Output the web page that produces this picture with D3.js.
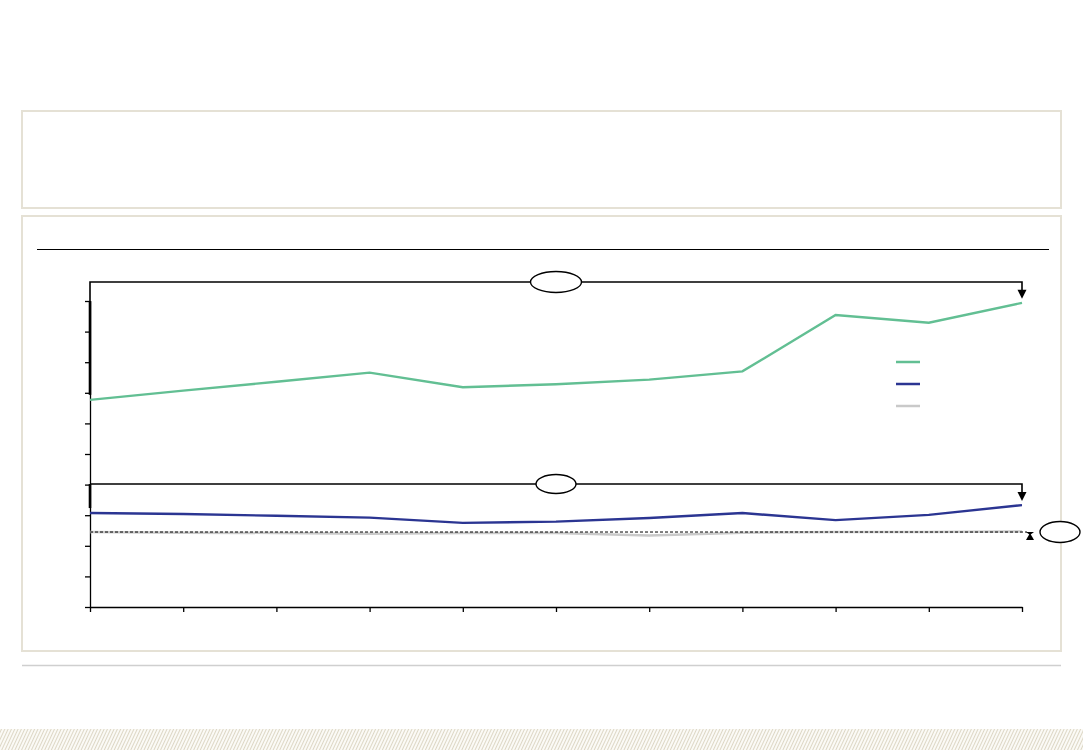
<!DOCTYPE html>
<html>
<head>
<meta charset="utf-8">
<script src="https://cdn.jsdelivr.net/npm/d3@7"></script>
<style>
  html, body { margin: 0; padding: 0; background: #fff; }
  svg { display: block; }
</style>
</head>
<body>
<svg id="chart" width="1083" height="750"></svg>
<script>
// ---- data ----
const categories = ["1", "2", "3", "4", "5", "6", "7", "8", "9", "10", "11"];
const seriesGreen = [67.7, 70.7, 73.6, 76.6, 71.8, 72.8, 74.3, 77.0, 95.4, 92.9, 99.4];
const seriesBlue  = [30.7, 30.4, 29.8, 29.2, 27.5, 27.9, 29.1, 30.7, 28.4, 30.1, 33.3];
const seriesGray  = [24.5, 24.3, 24.2, 23.9, 24.2, 24.2, 23.4, 24.3, 24.5, 24.5, 24.7];
const referenceLevel = 24.5;
const yTicks = [0, 10, 20, 30, 40, 50, 60, 70, 80, 90, 100];
const bracketLevels = [106.2, 40.2];
const seriesNames = ["green", "blue", "gray"];
const seriesColors = ["#62bf93", "#2b3592", "#c9c9c9"];

// ---- layout ----
const svg = d3.select("#chart");
const W = 1083, H = 750;
const x = d3.scalePoint().domain(categories).range([90, 1022]);
const y = d3.scaleLinear().domain([0, 100]).range([607, 301]);

// hatched band pattern
const defs = svg.append("defs");
const pat = defs.append("pattern").attr("id", "hatch").attr("patternUnits", "userSpaceOnUse")
  .attr("width", 3).attr("height", 3).attr("patternTransform", "rotate(25)");
pat.append("rect").attr("width", 3).attr("height", 3).attr("fill", "#fbfaf6");
pat.append("line").attr("x1", 0.5).attr("y1", 0).attr("x2", 0.5).attr("y2", 3)
  .attr("stroke", "#ddd7c5").attr("stroke-width", 1);
svg.append("rect").attr("x", 0).attr("y", 729).attr("width", W).attr("height", H - 729).attr("fill", "url(#hatch)");

// panels
svg.append("rect").attr("x", 22).attr("y", 111).attr("width", 1039).attr("height", 97)
  .attr("fill", "#fff").attr("stroke", "#e5e1d5").attr("stroke-width", 2);
svg.append("rect").attr("x", 22).attr("y", 216).attr("width", 1039).attr("height", 435)
  .attr("fill", "#fff").attr("stroke", "#e5e1d5").attr("stroke-width", 2);
svg.append("line").attr("x1", 22).attr("x2", 1061).attr("y1", 665.5).attr("y2", 665.5)
  .attr("stroke", "#cfcfcf").attr("stroke-width", 1.5);
svg.append("line").attr("x1", 37).attr("x2", 1049).attr("y1", 249.5).attr("y2", 249.5)
  .attr("stroke", "#000").attr("stroke-width", 1);

// axes
const gx = svg.append("g").attr("transform", `translate(0,${y(0)})`)
  .call(d3.axisBottom(x).tickSize(5).tickSizeOuter(0).tickFormat(""));
const gy = svg.append("g").attr("transform", `translate(${x(categories[0])},0)`)
  .call(d3.axisLeft(y).tickValues(yTicks).tickSize(5).tickSizeOuter(0).tickFormat(""));
[gx, gy].forEach(g => {
  g.selectAll("path, line").attr("stroke", "#000").attr("stroke-width", 1.3);
});

// lines
const line = d3.line().x((d, i) => x(categories[i])).y(d => y(d));
const xEnd = x(categories[categories.length - 1]);
const x0 = x(categories[0]);

svg.append("path").datum(seriesGray).attr("d", line)
  .attr("fill", "none").attr("stroke", seriesColors[2]).attr("stroke-width", 2.5);
svg.append("line").attr("x1", x0).attr("x2", xEnd + 5)
  .attr("y1", y(referenceLevel)).attr("y2", y(referenceLevel))
  .attr("stroke", "#000").attr("stroke-width", 1).attr("stroke-dasharray", "3,2");
svg.append("path").datum(seriesBlue).attr("d", line)
  .attr("fill", "none").attr("stroke", seriesColors[1]).attr("stroke-width", 2.4);
svg.append("path").datum(seriesGreen).attr("d", line)
  .attr("fill", "none").attr("stroke", seriesColors[0]).attr("stroke-width", 2.4);

// brackets with arrows and ovals
const bracketSeries = [seriesGreen, seriesBlue];
const ovalSizes = [[25.5, 10.5], [20, 9.5]];
bracketLevels.forEach((lv, i) => {
  const by = y(lv);
  const s = bracketSeries[i];
  const startY = y(s[0]) - 5;
  const endY = y(s[s.length - 1]) - 4;
  // thick left leg (inside the axis range)
  svg.append("line").attr("x1", x0).attr("x2", x0).attr("y1", Math.max(by, y(100))).attr("y2", startY)
    .attr("stroke", "#000").attr("stroke-width", 2.6);
  svg.append("path")
    .attr("d", `M${x0},${Math.max(by, y(100))}V${by}H${xEnd}V${endY - 7}`)
    .attr("fill", "none").attr("stroke", "#000").attr("stroke-width", 1.6);
  svg.append("path")
    .attr("d", `M${xEnd - 4.5},${endY - 9}L${xEnd + 4.5},${endY - 9}L${xEnd},${endY}Z`)
    .attr("fill", "#000");
  const cx = (x0 + xEnd) / 2;
  svg.append("ellipse").attr("cx", cx).attr("cy", by)
    .attr("rx", ovalSizes[i][0]).attr("ry", ovalSizes[i][1])
    .attr("fill", "#fff").attr("stroke", "#000").attr("stroke-width", 1.4);
});

// small up arrow at reference end + oval
const ry = y(referenceLevel);
svg.append("path")
  .attr("d", `M${xEnd + 4},${ry}L${xEnd + 12},${ry}L${xEnd + 8},${ry + 3}Z`).attr("fill", "#000");
svg.append("path")
  .attr("d", `M${xEnd + 4},${ry + 8}L${xEnd + 12},${ry + 8}L${xEnd + 8},${ry + 1}Z`).attr("fill", "#000");
svg.append("ellipse").attr("cx", 1060).attr("cy", ry)
  .attr("rx", 20).attr("ry", 10.5).attr("fill", "#fff").attr("stroke", "#000").attr("stroke-width", 1.4);

// legend
const legend = svg.append("g");
seriesNames.forEach((n, i) => {
  legend.append("line").attr("x1", 896).attr("x2", 920)
    .attr("y1", 362 + i * 22).attr("y2", 362 + i * 22)
    .attr("stroke", seriesColors[i]).attr("stroke-width", 2.5);
});
</script>
</body>
</html>
